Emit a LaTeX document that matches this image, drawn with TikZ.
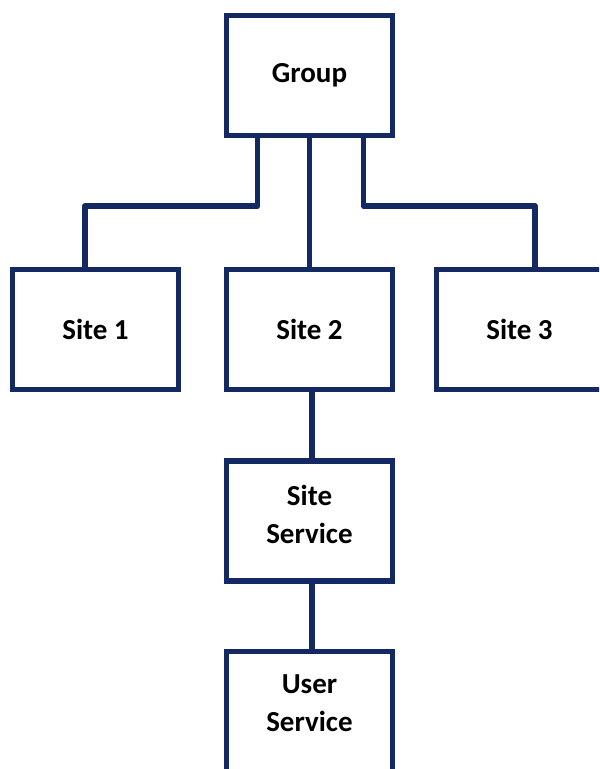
\documentclass[tikz,border=0pt]{standalone}
\usepackage{fontspec}
\setmainfont{Carlito}
\definecolor{navy}{RGB}{20,40,100}
\tikzset{
  unit/.style={draw=navy, line width=2.9pt, fill=white, minimum width=83pt,
    minimum height=60pt, align=center, font=\bfseries\fontsize{14.5}{19}\selectfont},
  caption/.style={align=center, font=\bfseries\fontsize{14.5}{19}\selectfont},
  link/.style={draw=navy, line width=2.9pt, line join=round}
}
\begin{document}
\begin{tikzpicture}[x=0.5pt,y=-0.5pt]
    % Page frame
    \useasboundingbox (0,0) rectangle (599,769);
    \clip (0,0) rectangle (599,769);

    % Boxes
    \node[unit] (group) at (309.5,75.5) {Group};
    \node[unit] (site1) at (95.5,329.5) {Site 1};
    \node[unit] (site2) at (309.5,329.5) {Site 2};
    \node[unit] (site3) at (519.5,329.5) {Site 3};
    \node[unit] (siteserv) at (309.5,521) {};
    \node[caption] (sitetext) at (309.5,514) {Site\\Service};
    \node[unit, minimum height=80pt] (userserv) at (309.5,731.5) {};
    \node[caption] (usertext) at (309.5,703) {User\\Service};

    % Branch points
    \coordinate (bendl) at (85,206);
    \coordinate (bendr) at (535,206);

    % Connectors
    \draw[link] ([xshift=-26pt]group.south) |- (bendl) -- (bendl |- site1.north);
    \draw[link] (group.south -| site2.north) -- (site2.north);
    \draw[link] ([xshift=27pt]group.south) |- (bendr) -- (bendr |- site3.north);
    \draw[link] ([xshift=1.25pt]site2.south) -- ([xshift=1.25pt]siteserv.north);
    \draw[link] ([xshift=1.25pt]siteserv.south) -- ([xshift=1.25pt]userserv.north);
\end{tikzpicture}
\end{document}
